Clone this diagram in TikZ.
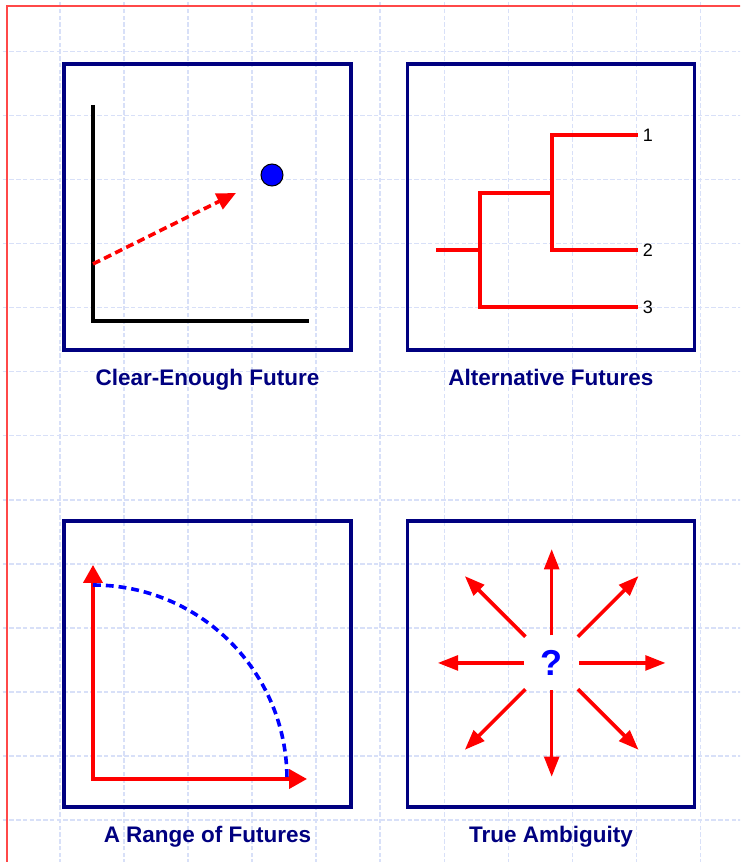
\documentclass[tikz,border=0pt]{standalone}
\usepackage{fontspec}
\setmainfont{Liberation Sans}
\usetikzlibrary{arrows.meta,calc,positioning}
\definecolor{navy}{HTML}{000080}
\definecolor{gridblue}{HTML}{D8E0F8}
\definecolor{pagered}{HTML}{FF4848}

\tikzset{
  panel/.style={draw=navy,line width=1.5pt,minimum width=4.48cm,minimum height=4.47cm,inner sep=0pt},
  caption/.style={font=\bfseries\fontsize{10}{12}\selectfont,text=navy,inner sep=0pt},
  branch/.style={red,line width=1.6pt},
  ray/.style={red,line width=1.6pt,-{Triangle[length=9pt,width=6.5pt]}},
  leaf/.style={font=\fontsize{8}{10}\selectfont,inner sep=2pt}
}

\begin{document}
\begin{tikzpicture}[>=Stealth]
  \useasboundingbox (0,0) rectangle (11.5625,13.46875);
  \clip (0,0) rectangle (11.5625,13.46875);
  \draw[gridblue,line width=0.45pt,dash pattern=on 2pt off 1pt,shift={(0.9375,0.65625)}] (-1,-1) grid (11,13);
  \draw[pagered,line width=0.5pt] (0.109,-1) |- (12,13.375);

  \node[panel] (clear) at (3.242,10.234) {};
  \node[panel] (alt) at (8.609,10.234) {};
  \node[panel] (range) at (3.242,3.094) {};
  \node[panel] (ambig) at (8.609,3.094) {};
  \node[caption,below=0.26cm of clear] (clearlbl) {Clear-Enough Future};
  \node[caption,below=0.26cm of alt] (altlbl) {Alternative Futures};
  \node[caption,below=0.26cm of range] (rangelbl) {A Range of Futures};
  \node[caption,below=0.26cm of ambig] (ambiglbl) {True Ambiguity};

  \draw[black,line width=1.6pt] (1.453,11.828) |- (4.828,8.453);
  \node[circle,draw=black,line width=0.45pt,fill=blue,minimum size=0.344cm,inner sep=0pt] (goal) at (4.25,10.734) {};
  \coordinate (now) at (1.453,9.344);
  \coordinate (aim) at (3.6875,10.453);
  \draw[red,line width=1.6pt,dash pattern=on 3.5pt off 2pt,-{Triangle[length=8.5pt,width=7.5pt]}] (now) -- (aim);

  \coordinate (root) at (6.8125,9.5625);
  \coordinate (fork1) at (7.5,9.5625);
  \coordinate (fork2) at (8.625,10.453);
  \coordinate (e1) at (9.969,11.359);
  \coordinate (e2) at (9.969,9.5625);
  \coordinate (e3) at (9.969,8.672);
  \draw[branch] (root) -- (fork1);
  \draw[branch] (fork2) -| (fork1 |- e3) -- (e3);
  \draw[branch] (e1) -| (fork2 |- e2) -- (e2);
  \node[leaf,right] (f1) at (e1) {1};
  \node[leaf,right] (f2) at (e2) {2};
  \node[leaf,right] (f3) at (e3) {3};

  \coordinate (o3) at (1.453,1.297);
  \draw[red,line width=1.6pt,line cap=rect,-{Triangle[length=8pt,width=8.5pt]}] (o3) -- (1.453,4.641);
  \draw[red,line width=1.6pt,line cap=rect,-{Triangle[length=8pt,width=8.5pt]}] (o3) -- (4.797,1.297);
  \draw[blue,line width=1.6pt,dash pattern=on 3.5pt off 2.2pt] (1.453,4.328) arc[start angle=90,end angle=0,radius=3.031cm];

  \node[font=\bfseries\fontsize{16}{18}\selectfont,text=blue,inner sep=0pt] (q) at (8.62,3.11) {?};
  \foreach \a/\r/\R in {0/0.43/1.78, 90/0.43/1.78, 180/0.43/1.78, 270/0.43/1.78, 45/0.58/1.92, 135/0.58/1.92, 225/0.58/1.92, 315/0.58/1.92}{
    \draw[ray] ($(q.center)+(\a:\r)$) -- ($(q.center)+(\a:\R)$);
  }
\end{tikzpicture}
\end{document}
